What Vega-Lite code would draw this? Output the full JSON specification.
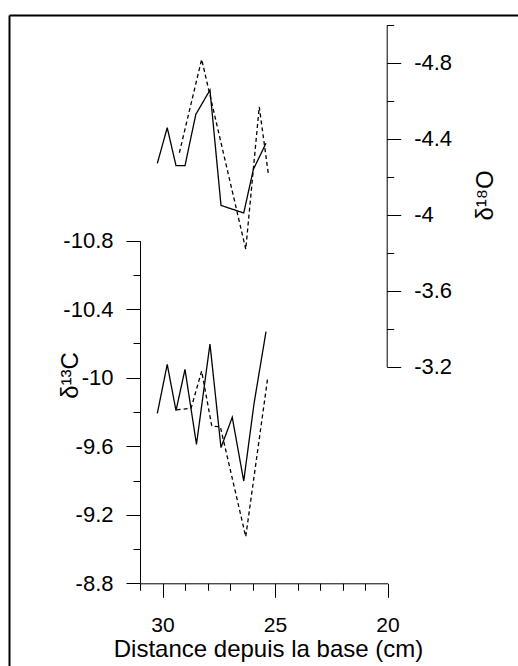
{
  "$schema": "https://vega.github.io/schema/vega-lite/v6.json",
  "width": 509,
  "height": 651,
  "autosize": {"type": "none"},
  "padding": {"left": 9, "top": 15, "right": 0, "bottom": 0},
  "background": "white",
  "datasets": {
    "o18": [
      {"dist": 30.23, "value": -4.27, "kind": "solid"},
      {"dist": 29.79, "value": -4.458, "kind": "solid"},
      {"dist": 29.40, "value": -4.258, "kind": "solid"},
      {"dist": 29.00, "value": -4.258, "kind": "solid"},
      {"dist": 28.52, "value": -4.528, "kind": "solid"},
      {"dist": 27.89, "value": -4.656, "kind": "solid"},
      {"dist": 27.40, "value": -4.049, "kind": "solid"},
      {"dist": 26.39, "value": -4.009, "kind": "solid"},
      {"dist": 25.96, "value": -4.239, "kind": "solid"},
      {"dist": 25.40, "value": -4.376, "kind": "solid"},
      {"dist": 29.25, "value": -4.326, "kind": "dashed"},
      {"dist": 28.26, "value": -4.818, "kind": "dashed"},
      {"dist": 26.30, "value": -3.818, "kind": "dashed"},
      {"dist": 25.70, "value": -4.568, "kind": "dashed"},
      {"dist": 25.30, "value": -4.218, "kind": "dashed"}
    ],
    "c13": [
      {"dist": 30.23, "value": -9.792, "kind": "solid"},
      {"dist": 29.79, "value": -10.078, "kind": "solid"},
      {"dist": 29.40, "value": -9.808, "kind": "solid"},
      {"dist": 29.00, "value": -10.049, "kind": "solid"},
      {"dist": 28.49, "value": -9.611, "kind": "solid"},
      {"dist": 27.89, "value": -10.197, "kind": "solid"},
      {"dist": 27.40, "value": -9.592, "kind": "solid"},
      {"dist": 26.90, "value": -9.769, "kind": "solid"},
      {"dist": 26.39, "value": -9.397, "kind": "solid"},
      {"dist": 25.93, "value": -9.851, "kind": "solid"},
      {"dist": 25.40, "value": -10.269, "kind": "solid"},
      {"dist": 29.37, "value": -9.812, "kind": "dashed"},
      {"dist": 28.73, "value": -9.822, "kind": "dashed"},
      {"dist": 28.26, "value": -10.039, "kind": "dashed"},
      {"dist": 27.81, "value": -9.718, "kind": "dashed"},
      {"dist": 27.43, "value": -9.714, "kind": "dashed"},
      {"dist": 26.30, "value": -9.072, "kind": "dashed"},
      {"dist": 25.32, "value": -10.003, "kind": "dashed"}
    ]
  },
  "config": {
    "font": "Liberation Sans",
    "view": {"stroke": null},
    "axis": {
      "domainColor": "black",
      "tickColor": "black",
      "labelColor": "black",
      "titleColor": "black",
      "labelFont": "Liberation Sans",
      "titleFont": "Liberation Sans",
      "labelFontSize": 22,
      "titleFontSize": 24,
      "titleFontWeight": "normal",
      "grid": false,
      "domainWidth": 1,
      "tickWidth": 1,
      "labelFlush": false,
      "labelOverlap": false,
      "labelBound": false
    }
  },
  "resolve": {"scale": {"x": "independent", "y": "independent"}},
  "layer": [
    {
      "data": {"name": "o18"},
      "mark": {"type": "point", "opacity": 0},
      "encoding": {
        "x": {
          "field": "dist", "type": "quantitative",
          "scale": {"domain": [0, 1], "range": [0, 600], "nice": false, "zero": false},
          "axis": {"orient": "top", "offset": 0, "values": [], "ticks": false, "labels": false, "domain": true, "domainWidth": 2, "title": null}
        },
        "y": {
          "field": "value", "type": "quantitative",
          "scale": {"domain": [0, 1], "range": [0, 700], "nice": false, "zero": false},
          "axis": {"orient": "left", "offset": 0, "values": [], "ticks": false, "labels": false, "domain": true, "domainWidth": 2, "title": null}
        }
      }
    },
    {
      "data": {"name": "o18"},
      "mark": {"type": "line", "color": "black", "strokeWidth": 1.3},
      "encoding": {
        "x": {
          "field": "dist", "type": "quantitative",
          "scale": {"domain": [31, 20], "range": [131, 378.5], "nice": false, "zero": false},
          "axis": {"orient": "bottom", "offset": -82.7, "values": [30, 25, 20], "tickSize": 14, "labelPadding": 17, "labelFontSize": 21,
                   "title": "Distance depuis la base (cm)", "titleX": 259, "titleY": 73, "titleBaseline": "alphabetic", "titleAlign": "center", "titleAnchor": "start"}
        },
        "y": {
          "field": "value", "type": "quantitative",
          "scale": {"domain": [-5, -3.2], "range": [9.7, 351.7], "nice": false, "zero": false},
          "axis": {"orient": "right", "offset": -131.3, "values": [-4.8, -4.4, -4, -3.6, -3.2], "tickSize": 14, "labelPadding": 13,
                   "labelExpr": "'' + datum.value",
                   "title": "δ¹⁸O", "titleAngle": 270, "titleX": 99, "titleY": 180, "titleBaseline": "middle", "titleAlign": "center"}
        },
        "strokeDash": {"field": "kind", "type": "nominal", "scale": {"domain": ["solid", "dashed"], "range": [[1, 0], [4, 3]]}, "legend": null}
      }
    },
    {
      "data": {"name": "o18"},
      "mark": {"type": "point", "opacity": 0},
      "encoding": {
        "x": {
          "field": "dist", "type": "quantitative",
          "scale": {"domain": [31, 20], "range": [131, 378.5], "nice": false, "zero": false},
          "axis": {"orient": "bottom", "offset": -82.7, "values": [31, 29, 28, 27, 26, 24, 23, 22, 21], "tickSize": 7, "labels": false, "domain": false, "title": null}
        },
        "y": {
          "field": "value", "type": "quantitative",
          "scale": {"domain": [-5, -3.2], "range": [9.7, 351.7], "nice": false, "zero": false},
          "axis": {"orient": "right", "offset": -131.3, "values": [-5, -4.6, -4.2, -3.8, -3.4], "tickSize": 7, "labels": false, "domain": false, "title": null}
        }
      }
    },
    {
      "data": {"name": "c13"},
      "mark": {"type": "line", "color": "black", "strokeWidth": 1.3},
      "encoding": {
        "x": {
          "field": "dist", "type": "quantitative",
          "scale": {"domain": [31, 20], "range": [131, 378.5], "nice": false, "zero": false},
          "axis": null
        },
        "y": {
          "field": "value", "type": "quantitative",
          "scale": {"domain": [-10.8, -8.8], "range": [225.7, 568.3], "nice": false, "zero": false},
          "axis": {"orient": "left", "offset": -131, "values": [-10.8, -10.4, -10, -9.6, -9.2, -8.8], "tickSize": 14, "labelPadding": 13,
                   "labelExpr": "'' + datum.value",
                   "title": "δ¹³C", "titleAngle": 270, "titleX": -70, "titleY": 360, "titleBaseline": "middle", "titleAlign": "center"}
        },
        "strokeDash": {"field": "kind", "type": "nominal", "scale": {"domain": ["solid", "dashed"], "range": [[1, 0], [4, 3]]}, "legend": null}
      }
    },
    {
      "data": {"name": "c13"},
      "mark": {"type": "point", "opacity": 0},
      "encoding": {
        "x": {
          "field": "dist", "type": "quantitative",
          "scale": {"domain": [31, 20], "range": [131, 378.5], "nice": false, "zero": false},
          "axis": null
        },
        "y": {
          "field": "value", "type": "quantitative",
          "scale": {"domain": [-10.8, -8.8], "range": [225.7, 568.3], "nice": false, "zero": false},
          "axis": {"orient": "left", "offset": -131, "values": [-10.6, -10.2, -9.8, -9.4, -9], "tickSize": 7, "labels": false, "domain": false, "title": null}
        }
      }
    }
  ]
}
